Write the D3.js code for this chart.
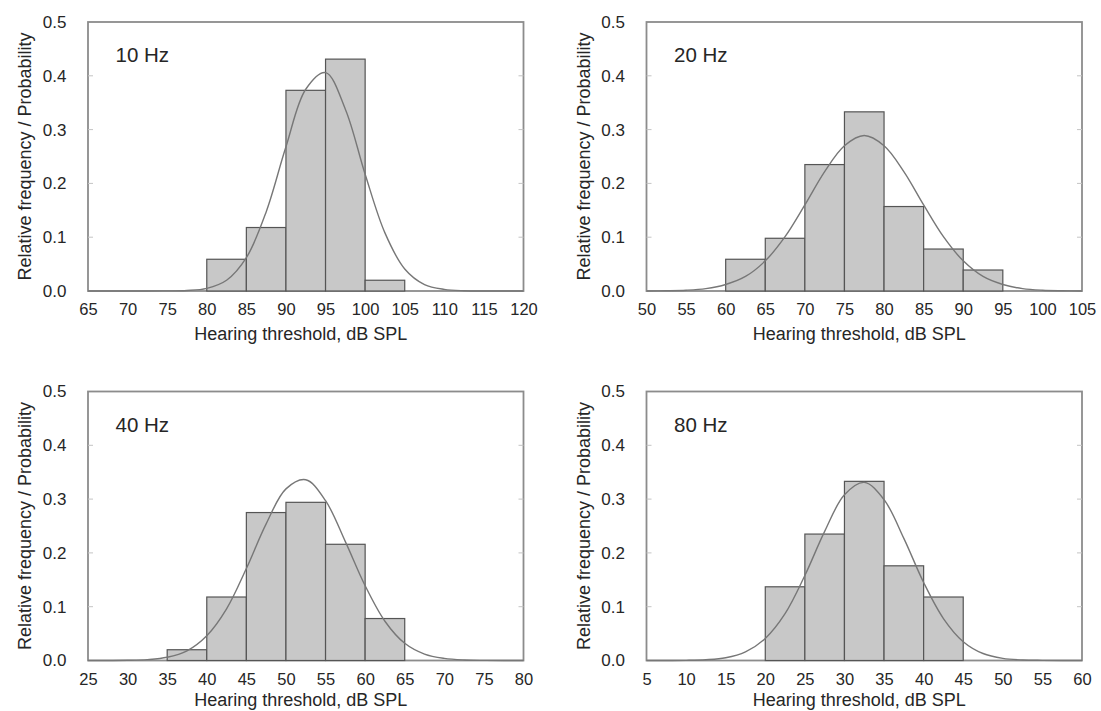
<!DOCTYPE html>
<html>
<head>
<meta charset="utf-8">
<script src="https://cdn.jsdelivr.net/npm/d3@7"></script>
<style>
  html, body { margin: 0; padding: 0; background: #fff; }
  svg { display: block; font-family: "Liberation Sans", Arial, sans-serif; }
</style>
</head>
<body>
<svg id="chart" width="1101" height="711"></svg>
<script>
// Hearing-threshold histograms (relative frequency, 5 dB bins) with fitted normal curves

const panelLabels = ["10 Hz", "20 Hz", "40 Hz", "80 Hz"];
const xDomains = [[65, 120], [50, 105], [25, 80], [5, 60]];
const yTicks = [0, 0.1, 0.2, 0.3, 0.4, 0.5];
const binWidth = 5;

// lower edge of each 5 dB bin
const binStarts10 = [80, 85, 90, 95, 100];
const binStarts20 = [60, 65, 70, 75, 80, 85, 90];
const binStarts40 = [35, 40, 45, 50, 55, 60];
const binStarts80 = [20, 25, 30, 35, 40];

// relative frequency per bin
const relFreq10 = [0.059, 0.118, 0.373, 0.431, 0.020];
const relFreq20 = [0.059, 0.098, 0.235, 0.333, 0.157, 0.078, 0.039];
const relFreq40 = [0.020, 0.118, 0.275, 0.294, 0.216, 0.078];
const relFreq80 = [0.137, 0.235, 0.333, 0.176, 0.118];

// probability curve, sampled every 2.5 dB across each axis range
const curveStep = 2.5;
const curve10 = [0, 0, 0, 0, 0.0002, 0.001, 0.005, 0.020, 0.062, 0.147, 0.268, 0.375,
                 0.406, 0.338, 0.217, 0.108, 0.041, 0.012, 0.003, 0.0005, 0.0001, 0, 0];
const curve20 = [0, 0.0004, 0.0014, 0.0044, 0.012, 0.027, 0.056, 0.101, 0.160, 0.222, 0.270, 0.289,
                 0.270, 0.222, 0.160, 0.101, 0.056, 0.027, 0.012, 0.0044, 0.0014, 0.0004, 0];
const curve40 = [0, 0.0001, 0.0004, 0.0017, 0.006, 0.018, 0.046, 0.096, 0.171, 0.254, 0.319, 0.336,
                 0.297, 0.221, 0.139, 0.073, 0.032, 0.012, 0.004, 0.001, 0.0002, 0, 0];
const curve80 = [0, 0.0001, 0.0003, 0.0014, 0.005, 0.016, 0.041, 0.087, 0.158, 0.240, 0.308, 0.331,
                 0.299, 0.227, 0.145, 0.078, 0.035, 0.013, 0.004, 0.001, 0.0003, 0.0001, 0];

const panels = [
  { label: panelLabels[0], domain: xDomains[0], bins: binStarts10, freq: relFreq10, curve: curve10 },
  { label: panelLabels[1], domain: xDomains[1], bins: binStarts20, freq: relFreq20, curve: curve20 },
  { label: panelLabels[2], domain: xDomains[2], bins: binStarts40, freq: relFreq40, curve: curve40 },
  { label: panelLabels[3], domain: xDomains[3], bins: binStarts80, freq: relFreq80, curve: curve80 }
];

const width = 1101, height = 711;
const plotW = 435.5, plotH = 269;
const origins = [[88, 22], [646.5, 22], [88, 391.5], [646.5, 391.5]];

const svg = d3.select("#chart");
const textColor = "#262626";

panels.forEach((p, i) => {
  const [ox, oy] = origins[i];
  const g = svg.append("g").attr("transform", `translate(${ox},${oy})`);

  const x = d3.scaleLinear().domain(p.domain).range([0, plotW]);
  const y = d3.scaleLinear().domain([0, 0.5]).range([plotH, 0]);

  // frame
  g.append("rect")
    .attr("x", 0).attr("y", 0).attr("width", plotW).attr("height", plotH)
    .attr("fill", "none").attr("stroke", "#8c8c8c").attr("stroke-width", 1.8);

  // small inward ticks on both vertical edges
  const inner = yTicks.slice(1, -1);
  g.selectAll("line.tl").data(inner).join("line")
    .attr("x1", 0).attr("x2", 5)
    .attr("y1", d => y(d)).attr("y2", d => y(d))
    .attr("stroke", "#c4c4c4").attr("stroke-width", 1);
  g.selectAll("line.tr").data(inner).join("line")
    .attr("x1", plotW - 5).attr("x2", plotW)
    .attr("y1", d => y(d)).attr("y2", d => y(d))
    .attr("stroke", "#c4c4c4").attr("stroke-width", 1);

  // histogram bars
  const bars = p.bins.map((b, k) => ({ x0: b, x1: b + binWidth, v: p.freq[k] }));
  g.selectAll("rect.bar").data(bars).join("rect")
    .attr("class", "bar")
    .attr("x", d => x(d.x0))
    .attr("width", d => x(d.x1) - x(d.x0))
    .attr("y", d => y(d.v))
    .attr("height", d => y(0) - y(d.v))
    .attr("fill", "#c8c8c8")
    .attr("stroke", "#555")
    .attr("stroke-width", 1.2);

  // fitted probability curve
  const pts = p.curve.map((v, k) => [p.domain[0] + k * curveStep, v]);
  const line = d3.line()
    .x(d => x(d[0]))
    .y(d => y(Math.max(0, d[1])))
    .curve(d3.curveCatmullRom.alpha(0.5));
  g.append("path")
    .attr("d", line(pts))
    .attr("fill", "none")
    .attr("stroke", "#777")
    .attr("stroke-width", 1.4);

  // x axis labels
  const xAxis = d3.axisBottom(x)
    .tickValues(d3.range(p.domain[0], p.domain[1] + 0.1, 5))
    .tickSize(0).tickFormat(d3.format("d"));
  const xa = g.append("g").attr("transform", `translate(0,${plotH})`).call(xAxis);
  xa.select(".domain").remove();
  xa.selectAll("text")
    .attr("y", 24).attr("dy", 0)
    .attr("fill", textColor)
    .style("font-size", "16.5px");

  // y axis labels
  const yAxis = d3.axisLeft(y).tickValues(yTicks).tickSize(0).tickPadding(21.5)
    .tickFormat(d3.format(".1f"));
  const ya = g.append("g").call(yAxis);
  ya.select(".domain").remove();
  ya.selectAll("text")
    .attr("fill", textColor)
    .style("font-size", "17px");

  // axis titles (kept inside the canvas at the bottom row)
  const titleOffset = Math.min(49, height - oy - plotH - 5);
  g.append("text")
    .attr("x", plotW / 2 - 5).attr("y", plotH + titleOffset)
    .attr("text-anchor", "middle")
    .attr("fill", textColor)
    .style("font-size", "18px")
    .text("Hearing threshold, dB SPL");

  g.append("text")
    .attr("transform", `translate(-57,${plotH / 2}) rotate(-90)`)
    .attr("text-anchor", "middle")
    .attr("fill", textColor)
    .style("font-size", "18px")
    .text("Relative frequency / Probability");

  // frequency label
  g.append("text")
    .attr("x", 27.5).attr("y", 40)
    .attr("fill", textColor)
    .style("font-size", "20.5px")
    .text(p.label);
});
</script>
</body>
</html>
